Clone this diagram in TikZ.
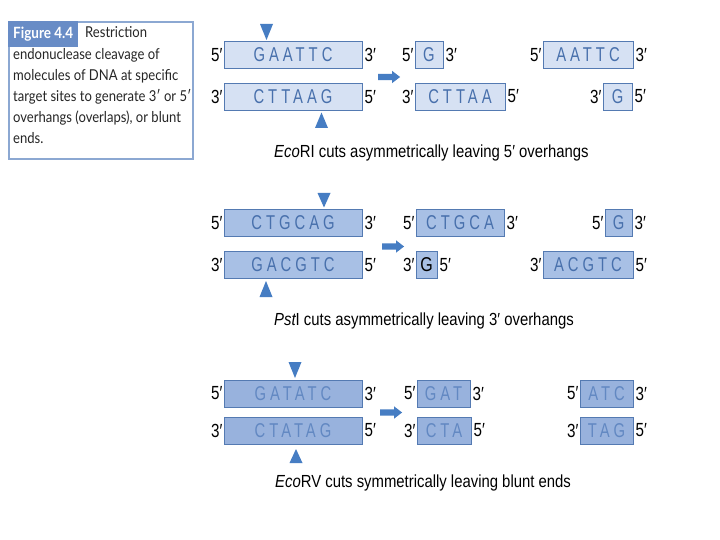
\documentclass[tikz,border=0pt]{standalone}
\usepackage{fontspec}
\setmainfont{Liberation Sans}
\newfontfamily\narrowsf[FakeStretch=0.8]{Liberation Sans}
\newfontfamily\enzymesf[FakeStretch=0.85]{Liberation Sans}
\newfontfamily\seqsf[FakeStretch=0.74,LetterSpace=20]{Liberation Sans}
\newfontfamily\legendsf[FakeStretch=0.87]{Lato}
\usetikzlibrary{positioning,shapes.arrows}

\definecolor{boxlight}{RGB}{214,225,243}
\definecolor{boxmid}{RGB}{168,192,229}
\definecolor{boxdark}{RGB}{152,178,221}
\definecolor{boxline}{RGB}{84,122,178}
\definecolor{seqtext}{RGB}{72,112,172}
\definecolor{seqpale}{RGB}{98,136,194}
\definecolor{cutblue}{RGB}{70,125,195}
\definecolor{framecol}{RGB}{140,168,210}
\definecolor{headcol}{RGB}{104,140,198}

\tikzset{
  seq/.style={draw=boxline,line width=0.8pt,minimum height=27pt,inner sep=0pt,
    font=\seqsf\fontsize{20}{20}\selectfont,text=seqtext},
  light/.style={seq,fill=boxlight},
  mid/.style={seq,fill=boxmid},
  dark/.style={seq,fill=boxdark,text=seqpale},
  strandend/.style={font=\narrowsf\fontsize{19}{19}\selectfont,inner sep=1pt},
  fatarrow/.style={single arrow,fill=cutblue,inner sep=3pt,minimum height=22pt,
    single arrow head extend=3pt,single arrow tip angle=75},
  cutmark/.style={fill=cutblue},
  enzyme/.style={font=\enzymesf\fontsize{17.5}{17.5}\selectfont,anchor=west,inner sep=0pt},
  legendtext/.style={font=\legendsf\fontsize{15}{15}\selectfont,anchor=mid west,inner sep=0pt,text=black!85}
}

\begin{document}
\begin{tikzpicture}[x=1pt,y=-1pt]
  \useasboundingbox[fill=white] (0,0) rectangle (720,540);

  \node[draw=framecol,line width=2pt,minimum width=184pt,minimum height=137pt,anchor=north west] (legend) at (8,21) {};
  \node[fill=headcol,text=white,font=\legendsf\bfseries\fontsize{15.5}{15.5}\selectfont,minimum width=70pt,minimum height=26pt,inner sep=0pt,anchor=north west] (figno) at (8,21) {Figure 4.4};
  \node[legendtext] (cap1) at (85,35) {Restriction};
  \node[legendtext] (cap2) at (13,57) {endonuclease cleavage of};
  \node[legendtext] (cap3) at (13,78) {molecules of DNA at specific};
  \node[legendtext] (cap4) at (13,99) {target sites to generate 3′ or 5′};
  \node[legendtext] (cap5) at (13,120) {overhangs (overlaps), or blunt};
  \node[legendtext] (cap6) at (13,141) {ends.};

  % EcoRI
  \node[light,minimum width=138pt] (ecoTop) at (293,55) {GAATTC};
  \node[light,minimum width=138pt] (ecoBot) at (293,97) {CTTAAG};
  \node[strandend,left=0pt of ecoTop] (ecoTopL) {5′};
  \node[strandend,right=1pt of ecoTop] (ecoTopR) {3′};
  \node[strandend,left=0pt of ecoBot] (ecoBotL) {3′};
  \node[strandend,right=1pt of ecoBot] (ecoBotR) {5′};
  \fill[cutmark] (266.5,40) -- (260,24) -- (273,24) -- cycle;
  \fill[cutmark] (321.5,112.5) -- (315,128) -- (328,128) -- cycle;
  \node[fatarrow] (ecoArrow) at (387,77) {};

  \node[light,minimum width=28pt] (ecoG) at (429,55) {G};
  \node[light,minimum width=90pt] (ecoCTTAA) at (460,96.5) {CTTAA};
  \node[light,minimum width=90pt] (ecoAATTC) at (588,55) {AATTC};
  \node[light,minimum width=29pt] (ecoG2) at (617.5,96.5) {G};
  \node[strandend,left=0pt of ecoG] (ecoGL) {5′};
  \node[strandend,right=1pt of ecoG] (ecoGR) {3′};
  \node[strandend,left=0pt of ecoCTTAA] (ecoCTTAAL) {3′};
  \node[strandend,right=1pt of ecoCTTAA] (ecoCTTAAR) {5′};
  \node[strandend,left=0pt of ecoAATTC] (ecoAATTCL) {5′};
  \node[strandend,right=1pt of ecoAATTC] (ecoAATTCR) {3′};
  \node[strandend,left=0pt of ecoG2] (ecoG2L) {3′};
  \node[strandend,right=1pt of ecoG2] (ecoG2R) {5′};
  \node[enzyme] (ecoText) at (274,153) {{\itshape Eco}RI cuts asymmetrically leaving 5′ overhangs};

  % PstI
  \node[mid,minimum width=138pt] (pstTop) at (293,223) {CTGCAG};
  \node[mid,minimum width=138pt] (pstBot) at (293,265) {GACGTC};
  \node[strandend,left=0pt of pstTop] (pstTopL) {5′};
  \node[strandend,right=1pt of pstTop] (pstTopR) {3′};
  \node[strandend,left=0pt of pstBot] (pstBotL) {3′};
  \node[strandend,right=1pt of pstBot] (pstBotR) {5′};
  \fill[cutmark] (324,207.5) -- (317.5,193) -- (330.5,193) -- cycle;
  \fill[cutmark] (266,281) -- (259.5,297) -- (272.5,297) -- cycle;
  \node[fatarrow] (pstArrow) at (391,246.5) {};

  \node[mid,minimum width=88pt] (pstCTGCA) at (460,223) {CTGCA};
  \node[mid,minimum width=21pt,text=black,font=\narrowsf\fontsize{20}{20}\selectfont] (pstG) at (426.5,265) {G};
  \node[mid,minimum width=27pt] (pstG2) at (618.5,223) {G};
  \node[mid,minimum width=90pt] (pstACGTC) at (588,265) {ACGTC};
  \node[strandend,left=0pt of pstCTGCA] (pstCTGCAL) {5′};
  \node[strandend,right=1pt of pstCTGCA] (pstCTGCAR) {3′};
  \node[strandend,left=0pt of pstG] (pstGL) {3′};
  \node[strandend,right=1pt of pstG] (pstGR) {5′};
  \node[strandend,left=0pt of pstG2] (pstG2L) {5′};
  \node[strandend,right=1pt of pstG2] (pstG2R) {3′};
  \node[strandend,left=0pt of pstACGTC] (pstACGTCL) {3′};
  \node[strandend,right=1pt of pstACGTC] (pstACGTCR) {5′};
  \node[enzyme] (pstText) at (274,321) {{\itshape Pst}I cuts asymmetrically leaving 3′ overhangs};

  % EcoRV
  \node[dark,minimum width=138pt] (rvTop) at (293,393.5) {GATATC};
  \node[dark,minimum width=138pt] (rvBot) at (293,430.5) {CTATAG};
  \node[strandend,left=0pt of rvTop] (rvTopL) {5′};
  \node[strandend,right=1pt of rvTop] (rvTopR) {3′};
  \node[strandend,left=0pt of rvBot] (rvBotL) {3′};
  \node[strandend,right=1pt of rvBot] (rvBotR) {5′};
  \fill[cutmark] (295,378) -- (288.5,362) -- (301.5,362) -- cycle;
  \fill[cutmark] (296,449) -- (289.5,463) -- (302.5,463) -- cycle;
  \node[fatarrow] (rvArrow) at (389,412.5) {};

  \node[dark,minimum width=53pt] (rvGAT) at (443.5,393.5) {GAT};
  \node[dark,minimum width=54pt] (rvCTA) at (444,430.5) {CTA};
  \node[dark,minimum width=53pt] (rvATC) at (606.5,393.5) {ATC};
  \node[dark,minimum width=53pt] (rvTAG) at (606.5,430.5) {TAG};
  \node[strandend,left=0pt of rvGAT] (rvGATL) {5′};
  \node[strandend,right=1pt of rvGAT] (rvGATR) {3′};
  \node[strandend,left=0pt of rvCTA] (rvCTAL) {3′};
  \node[strandend,right=1pt of rvCTA] (rvCTAR) {5′};
  \node[strandend,left=0pt of rvATC] (rvATCL) {5′};
  \node[strandend,right=1pt of rvATC] (rvATCR) {3′};
  \node[strandend,left=0pt of rvTAG] (rvTAGL) {3′};
  \node[strandend,right=1pt of rvTAG] (rvTAGR) {5′};
  \node[enzyme] (rvText) at (275,483) {{\itshape Eco}RV cuts symmetrically leaving blunt ends};
\end{tikzpicture}
\end{document}
